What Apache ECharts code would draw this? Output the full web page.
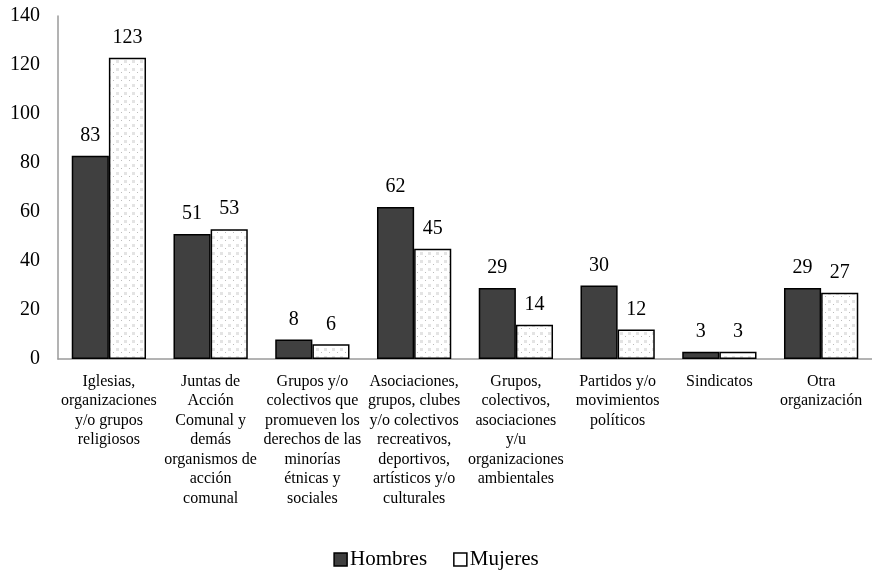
<!DOCTYPE html>
<html>
<head>
<meta charset="utf-8">
<script src="https://cdn.jsdelivr.net/npm/echarts@6/dist/echarts.min.js"></script>
<style>
  html, body { margin: 0; padding: 0; background: #fff; }
  #chart { width: 872px; height: 571px; }
</style>
</head>
<body>
<div id="chart"></div>
<script>
// Organization types (line breaks as laid out under each pair of bars)
const categories = [
  "Iglesias,\norganizaciones\ny/o grupos\nreligiosos",
  "Juntas de\nAcción\nComunal y\ndemás\norganismos de\nacción\ncomunal",
  "Grupos y/o\ncolectivos que\npromueven los\nderechos de las\nminorías\nétnicas y\nsociales",
  "Asociaciones,\ngrupos, clubes\ny/o colectivos\nrecreativos,\ndeportivos,\nartísticos y/o\nculturales",
  "Grupos,\ncolectivos,\nasociaciones\ny/u\norganizaciones\nambientales",
  "Partidos y/o\nmovimientos\npolíticos",
  "Sindicatos",
  "Otra\norganización"
];
const hombres = [83, 51, 8, 62, 29, 30, 3, 29];
const mujeres = [123, 53, 6, 45, 14, 12, 3, 27];
const yTicks = { min: 0, max: 140, interval: 20 };

// Light dotted tile used to fill the Mujeres bars
function dottedTile() {
  const c = document.createElement('canvas');
  c.width = 8; c.height = 8;
  const g = c.getContext('2d');
  g.fillStyle = '#ffffff';
  g.fillRect(0, 0, 8, 8);
  g.fillStyle = '#e4e4e4';
  g.fillRect(4, 4, 3, 3);
  g.fillStyle = '#bcbcbc';
  g.fillRect(1, 0, 1, 1);
  return c;
}

const serif = '"Liberation Serif", "DejaVu Serif", serif';
const chart = echarts.init(document.getElementById('chart'));
const labelStyle = { show: true, position: 'top', distance: 10, fontFamily: serif, fontSize: 20, color: '#000' };

chart.setOption({
  animation: false,
  textStyle: { fontFamily: serif },
  grid: { left: 58, right: 0, top: 16, bottom: 212 },
  legend: {
    top: 544,
    left: 'center',
    itemWidth: 13,
    itemHeight: 13,
    itemGap: 26,
    textStyle: { fontFamily: serif, fontSize: 21, color: '#000', padding: [0, 0, 0, -2] },
    data: [
      { name: 'Hombres', icon: 'rect', itemStyle: { color: '#404040', borderColor: '#000', borderWidth: 1.5 } },
      { name: 'Mujeres', icon: 'rect', itemStyle: { color: '#fff', borderColor: '#000', borderWidth: 1.5 } }
    ]
  },
  xAxis: {
    type: 'category',
    data: categories,
    axisLine: { lineStyle: { color: '#9a9a9a', width: 1.5 } },
    axisTick: { show: false },
    axisLabel: { interval: 0, margin: 13, fontFamily: serif, fontSize: 16, lineHeight: 19.5, color: '#000', align: 'center', verticalAlign: 'top' }
  },
  yAxis: {
    type: 'value',
    min: yTicks.min,
    max: yTicks.max,
    interval: yTicks.interval,
    axisLine: { show: true, lineStyle: { color: '#9a9a9a', width: 1.5 } },
    axisTick: { show: false },
    splitLine: { show: false },
    axisLabel: { margin: 18, fontFamily: serif, fontSize: 20, color: '#000' }
  },
  series: [
    {
      name: 'Hombres',
      type: 'bar',
      data: hombres,
      barGap: '0%',
      barCategoryGap: '27%',
      itemStyle: { color: '#404040', borderColor: '#000', borderWidth: 1.5 },
      label: labelStyle
    },
    {
      name: 'Mujeres',
      type: 'bar',
      data: mujeres,
      itemStyle: { color: { image: dottedTile(), repeat: 'repeat' }, borderColor: '#000', borderWidth: 1.5 },
      label: labelStyle
    }
  ]
});
</script>
</body>
</html>
